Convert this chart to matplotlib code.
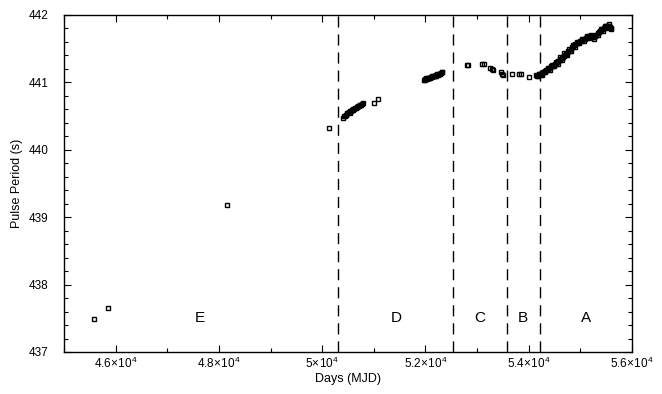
import matplotlib
matplotlib.use('Agg')
import matplotlib.pyplot as plt
from matplotlib.ticker import MultipleLocator, FuncFormatter

plt.rcParams['font.family'] = ['Liberation Sans', 'DejaVu Sans']
plt.rcParams['mathtext.fontset'] = 'custom'
plt.rcParams['mathtext.rm'] = 'Liberation Sans'
plt.rcParams['mathtext.it'] = 'Liberation Sans'

# pulse period history (MJD, seconds)
early_days = [45584, 45861, 48153, 50134]
early_period = [437.49, 437.65, 439.18, 440.33]

d_days = [50410, 50425, 50440, 50455, 50470, 50485, 50500, 50515, 50530, 50545,
          50560, 50575, 50590, 50605, 50620, 50635, 50650, 50665, 50680, 50695,
          50710, 50725, 50740, 50755, 50770, 50790, 51010, 51076]
d_period = [440.47, 440.50, 440.50, 440.52, 440.51, 440.54, 440.54, 440.56, 440.55, 440.57,
            440.57, 440.59, 440.59, 440.60, 440.60, 440.62, 440.62, 440.63, 440.63, 440.65,
            440.65, 440.66, 440.66, 440.67, 440.68, 440.69, 440.70, 440.76]

mid_days = [51973, 51990, 52000, 52015, 52030, 52045, 52060, 52075, 52090, 52105,
            52120, 52135, 52150, 52165, 52180, 52195, 52210, 52225, 52240, 52255,
            52270, 52285, 52300, 52315, 52327,
            52800, 52820, 53090, 53130, 53250, 53280, 53314, 53463, 53490, 53508,
            53682, 53818, 53850, 54006]
mid_period = [441.03, 441.05, 441.04, 441.06, 441.05, 441.07, 441.06, 441.06, 441.06, 441.08,
              441.08, 441.09, 441.09, 441.10, 441.10, 441.11, 441.10, 441.12, 441.11, 441.12,
              441.12, 441.13, 441.14, 441.16, 441.15,
              441.26, 441.26, 441.28, 441.28, 441.22, 441.20, 441.19, 441.15, 441.13, 441.11,
              441.12, 441.13, 441.12, 441.08]

a_days = [54150, 54175, 54195, 54222, 54240, 54266, 54290, 54308, 54333, 54352,
          54377, 54398, 54421, 54440, 54462, 54488, 54505, 54530, 54551, 54570,
          54596, 54615, 54640, 54658, 54682, 54700, 54725, 54748, 54770, 54791,
          54815, 54838, 54856, 54880, 54902, 54925, 54948, 54970, 54995, 55015,
          55040, 55062, 55085, 55110, 55130, 55152, 55175, 55198, 55220, 55245,
          55268, 55290, 55312, 55335, 55358, 55380, 55402, 55425, 55448, 55470,
          55492, 55515, 55538, 55560, 55580, 55595]
a_period = [441.11, 441.10, 441.12, 441.11, 441.13, 441.14, 441.15, 441.17, 441.18, 441.19,
            441.20, 441.21, 441.22, 441.24, 441.25, 441.26, 441.27, 441.28, 441.30, 441.31,
            441.33, 441.34, 441.36, 441.37, 441.39, 441.41, 441.42, 441.44, 441.46, 441.47,
            441.50, 441.52, 441.54, 441.55, 441.57, 441.58, 441.59, 441.60, 441.61, 441.62,
            441.63, 441.64, 441.65, 441.66, 441.67, 441.68, 441.69, 441.69, 441.68, 441.67,
            441.68, 441.69, 441.71, 441.73, 441.74, 441.76, 441.78, 441.79, 441.81, 441.82,
            441.83, 441.84, 441.84, 441.83, 441.82, 441.81]

# second, noisier set of A measurements
a2_days = [54160, 54205, 54250, 54280, 54320, 54365, 54410, 54450, 54495, 54520,
           54560, 54605, 54650, 54690, 54735, 54780, 54825, 54865, 54890, 54935,
           54980, 55025, 55075, 55120, 55165, 55210, 55255, 55300, 55345, 55390,
           55435, 55480, 55505, 55550, 55585]
a2_period = [441.09, 441.13, 441.11, 441.16, 441.15, 441.22, 441.19, 441.26, 441.24, 441.30,
             441.28, 441.37, 441.33, 441.43, 441.40, 441.49, 441.46, 441.56, 441.53, 441.60,
             441.58, 441.64, 441.62, 441.69, 441.66, 441.71, 441.64, 441.71, 441.70, 441.79,
             441.76, 441.84, 441.80, 441.86, 441.79]

boundaries = [50300, 52530, 53580, 54220]
region_names = ['E', 'D', 'C', 'B', 'A']
region_days = [47634, 51430, 53056, 53890, 55110]
region_y = 437.5


def sci_fmt(v, pos):
    s = '{:g}'.format(v / 1e4)
    return r'${}\!\times\!10^{{4}}$'.format(s)


fig = plt.figure(figsize=(6.62, 3.94), dpi=100)
ax = fig.add_axes([0.0967, 0.1066, 0.858, 0.8554])

for xs, ys in [(early_days, early_period), (d_days, d_period),
               (mid_days, mid_period), (a_days, a_period), (a2_days, a2_period)]:
    ax.plot(xs, ys, 's', ms=3.2, mfc='none', mec='k', mew=1)

for b in boundaries:
    ax.axvline(b, color='k', lw=1, ls=(0, (8, 5)))

for name, dx in zip(region_names, region_days):
    ax.text(dx, region_y, name, ha='center', va='center', fontsize=11)

ax.set_xlim(45000, 56000)
ax.set_ylim(437, 442)
ax.xaxis.set_major_locator(MultipleLocator(2000))
ax.xaxis.set_minor_locator(MultipleLocator(1000))
ax.yaxis.set_major_locator(MultipleLocator(1))
ax.yaxis.set_minor_locator(MultipleLocator(0.2))
ax.xaxis.set_major_formatter(FuncFormatter(sci_fmt))
ax.yaxis.set_major_formatter(FuncFormatter(lambda v, p: '{:.0f}'.format(v)))
ax.tick_params(which='both', direction='in', top=True, right=True, labelsize=8.5, width=0.8)
ax.tick_params(which='major', length=5)
ax.tick_params(which='minor', length=3)
ax.tick_params(axis='x', which='major', pad=3)
ax.tick_params(axis='y', which='major', pad=11)
for sp in ax.spines.values():
    sp.set_linewidth(1)

ax.set_xlabel('Days (MJD)', fontsize=9, labelpad=1)
ax.set_ylabel('Pulse Period (s)', fontsize=9, labelpad=4)

plt.savefig('out.png', dpi=100)
